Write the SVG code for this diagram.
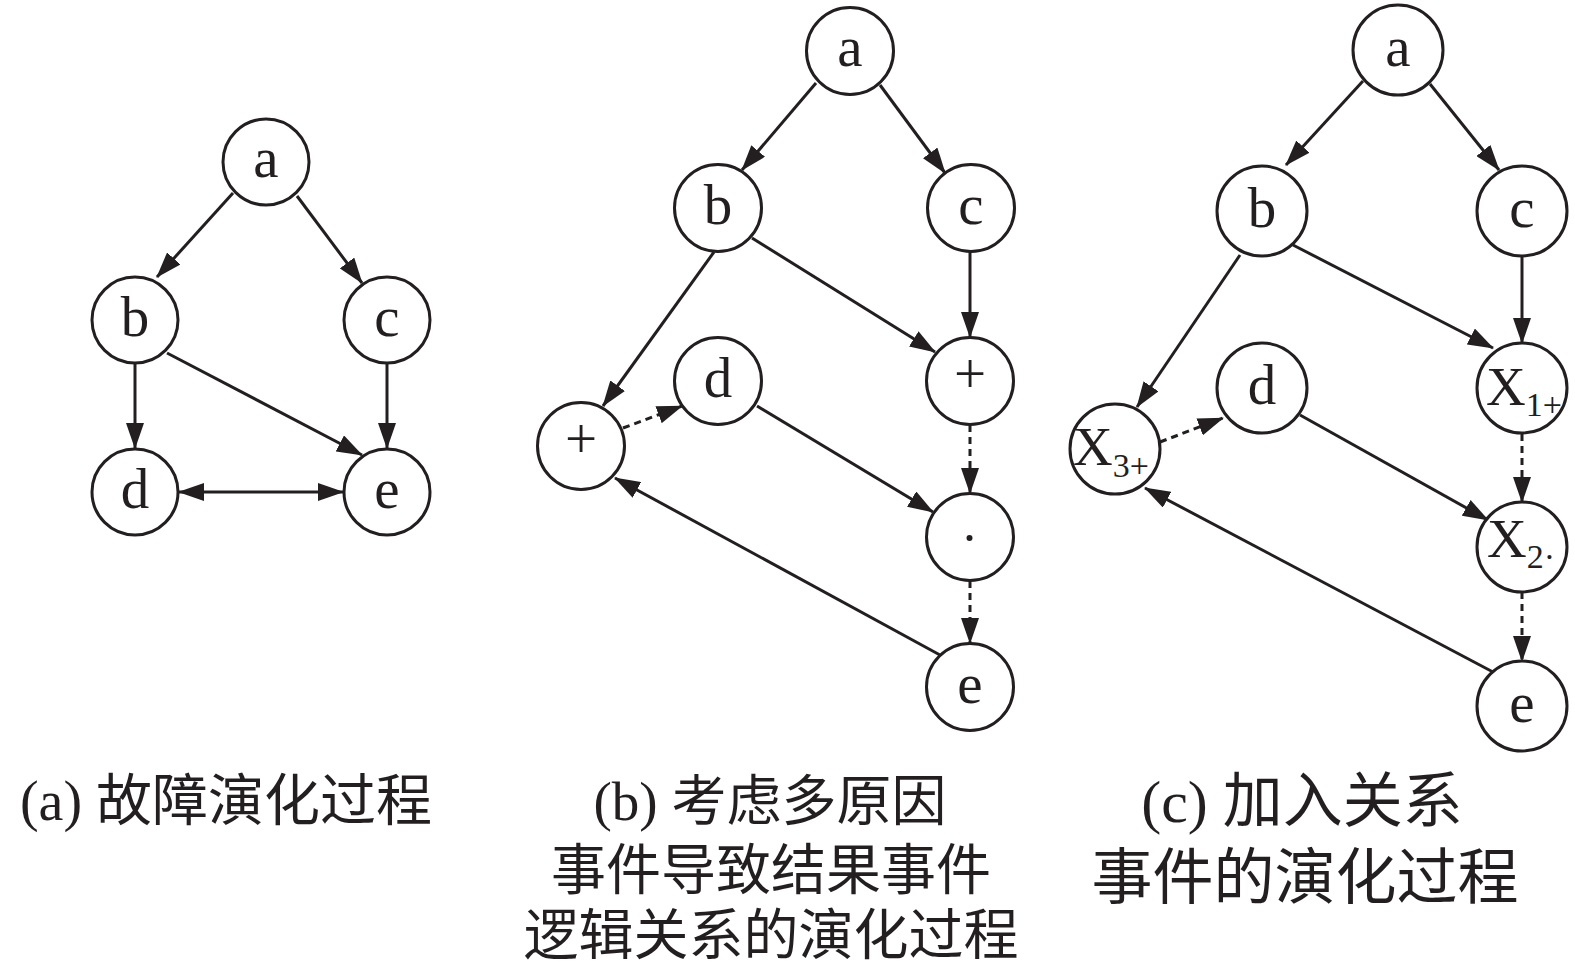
<svg xmlns="http://www.w3.org/2000/svg" width="1575" height="976" viewBox="0 0 1575 976">
<style>
.n{fill:#fff;stroke:#231f20;stroke-width:3}
.t{font-family:"Liberation Serif","Times New Roman",serif;font-size:57px;fill:#231f20;text-anchor:middle}
.x{font-family:"Liberation Serif","Times New Roman",serif;font-size:55px;fill:#231f20}
.e{stroke:#231f20;stroke-width:3;fill:none;marker-end:url(#arr)}
.d{stroke-dasharray:7 5}
.cap{font-family:"Liberation Serif","Noto Sans CJK SC",serif;fill:#231f20;text-anchor:middle}
</style>
<defs>
<marker id="arr" markerWidth="26" markerHeight="18" refX="25" refY="9" orient="auto-start-reverse" markerUnits="userSpaceOnUse">
<path d="M0,0 L26,9 L0,18 Z" fill="#231f20"/>
</marker>
</defs>
<g id="connectors">
<!-- panel a -->
<line class="e" x1="233" y1="193" x2="157" y2="277"/>
<line class="e" x1="297" y1="196" x2="362" y2="283"/>
<line class="e" x1="135" y1="364" x2="135" y2="448"/>
<line class="e" x1="387" y1="364" x2="387" y2="448"/>
<line class="e" x1="167" y1="353" x2="362" y2="455"/>
<line class="e" x1="179" y1="492" x2="343" y2="492" style="marker-start:url(#arr)"/>
<!-- panel b -->
<line class="e" x1="816" y1="83" x2="742" y2="170"/>
<line class="e" x1="880" y1="85" x2="945" y2="173"/>
<line class="e" x1="714" y1="252" x2="603" y2="406"/>
<line class="e" x1="752" y1="238" x2="935" y2="352"/>
<line class="e" x1="970" y1="252" x2="970" y2="337"/>
<line class="e d" x1="970" y1="425" x2="970" y2="493"/>
<line class="e d" x1="970" y1="581" x2="970" y2="643"/>
<line class="e d" x1="623" y1="428" x2="682" y2="406"/>
<line class="e" x1="757" y1="406" x2="933" y2="512"/>
<line class="e" x1="940" y1="655" x2="615" y2="478"/>
<!-- panel c -->
<line class="e" x1="1363" y1="81" x2="1286" y2="165"/>
<line class="e" x1="1430" y1="84" x2="1499" y2="170"/>
<line class="e" x1="1240" y1="255" x2="1137" y2="407"/>
<line class="e" x1="1293" y1="245" x2="1493" y2="348"/>
<line class="e" x1="1522" y1="256" x2="1522" y2="343"/>
<line class="e d" x1="1522" y1="434" x2="1522" y2="502"/>
<line class="e d" x1="1522" y1="592" x2="1522" y2="661"/>
<line class="e d" x1="1160" y1="442" x2="1223" y2="418"/>
<line class="e" x1="1300" y1="415" x2="1488" y2="520"/>
<line class="e" x1="1493" y1="672" x2="1145" y2="488"/>
</g>
<!-- panel a nodes -->
<g id="a1"><circle class="n" cx="266" cy="162" r="43"/><text class="t" x="266" y="177">a</text></g>
<g id="b1"><circle class="n" cx="135" cy="320" r="43"/><text class="t" x="135" y="336">b</text></g>
<g id="c1"><circle class="n" cx="387" cy="320" r="43"/><text class="t" x="387" y="336">c</text></g>
<g id="d1"><circle class="n" cx="135" cy="492" r="43"/><text class="t" x="135" y="508">d</text></g>
<g id="e1"><circle class="n" cx="387" cy="492" r="43"/><text class="t" x="387" y="508">e</text></g>
<!-- panel b nodes -->
<g id="a2"><circle class="n" cx="850" cy="51" r="43.5"/><text class="t" x="850" y="66">a</text></g>
<g id="b2"><circle class="n" cx="718" cy="208" r="43.5"/><text class="t" x="718" y="224">b</text></g>
<g id="c2"><circle class="n" cx="971" cy="208" r="43.5"/><text class="t" x="971" y="224">c</text></g>
<g id="d2"><circle class="n" cx="718" cy="381" r="43.5"/><text class="t" x="718" y="397">d</text></g>
<g id="p2l"><circle class="n" cx="581" cy="446" r="43.5"/><text class="t" x="581" y="458" font-size="60">+</text></g>
<g id="p2r"><circle class="n" cx="970" cy="381" r="43.5"/><text class="t" x="970" y="393" font-size="60">+</text></g>
<g id="m2"><circle class="n" cx="970" cy="537" r="43.5"/><circle cx="969.5" cy="538" r="3" fill="#231f20"/></g>
<g id="e2"><circle class="n" cx="970" cy="687" r="43.5"/><text class="t" x="970" y="703">e</text></g>
<!-- panel c nodes -->
<g id="a3"><circle class="n" cx="1398" cy="50" r="45"/><text class="t" x="1398" y="66">a</text></g>
<g id="b3"><circle class="n" cx="1262" cy="211" r="45"/><text class="t" x="1262" y="227">b</text></g>
<g id="c3"><circle class="n" cx="1522" cy="211" r="45"/><text class="t" x="1522" y="227">c</text></g>
<g id="d3"><circle class="n" cx="1262" cy="388" r="45"/><text class="t" x="1262" y="404">d</text></g>
<g id="x3"><circle class="n" cx="1115" cy="449" r="45"/><text class="x" x="1073" y="465">X<tspan font-size="34" dy="12">3+</tspan></text></g>
<g id="x1"><circle class="n" cx="1522" cy="388" r="45"/><text class="x" x="1486" y="405">X<tspan font-size="34" dy="11">1+</tspan></text></g>
<g id="x2"><circle class="n" cx="1522" cy="547" r="45"/><text class="x" x="1487" y="557">X<tspan font-size="34" dy="11">2·</tspan></text></g>
<g id="e3"><circle class="n" cx="1522" cy="706" r="45"/><text class="t" x="1522" y="722">e</text></g>
<!-- captions -->
<g id="captions">
<text class="cap" x="226" y="820" font-size="56">(a) 故障演化过程</text>
<text class="cap" x="770" y="820" font-size="55">(b) 考虑多原因</text>
<text class="cap" x="771" y="889" font-size="55">事件导致结果事件</text>
<text class="cap" x="771" y="954" font-size="55">逻辑关系的演化过程</text>
<text class="cap" x="1302" y="822" font-size="60">(c) 加入关系</text>
<text class="cap" x="1305" y="899" font-size="61">事件的演化过程</text>
</g>
</svg>
